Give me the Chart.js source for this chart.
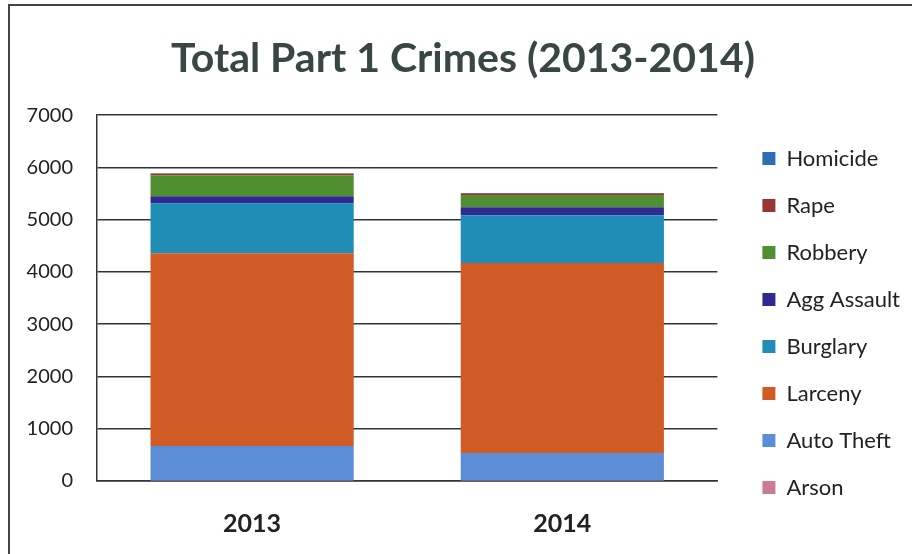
<!DOCTYPE html>
<html>
<head>
<meta charset="utf-8">
<script src="https://cdn.jsdelivr.net/npm/chart.js@4/dist/chart.umd.min.js"></script>
<style>
  body { margin: 0; background: #fff; }
  #frame { position: absolute; left: 8px; top: 4px; width: 904px; height: 550px;
           border-left: 2px solid #444; border-top: 2px solid #444; }
  #wrap { position: absolute; left: 0; top: 0; width: 912px; height: 554px; }
</style>
</head>
<body>
<div id="frame"></div>
<div id="wrap"><canvas id="crimeChart"></canvas></div>
<script>
// Years on the x axis
const years = ['2013', '2014'];

// Crime counts per year, bottom of stack first
const arson = [10, 10];
const autoTheft = [660, 525];
const larceny = [3690, 3635];
const burglary = [955, 915];
const aggAssault = [135, 155];
const robbery = [400, 235];
const rape = [35, 30];
const homicide = [5, 5];

// Y axis ticks
const yTicks = [0, 1000, 2000, 3000, 4000, 5000, 6000, 7000];

const font = 'Lato';

// nudge legend and title to where the original has them
const nudge = {
    id: 'nudge',
    afterLayout(chart) {
        const lg = chart.legend;
        lg.left += 20; lg.right += 20;
        lg.top += 46; lg.bottom += 46;
        const t = chart.titleBlock;
        t.left += 6; t.right += 6;
    }
};

const ctx = document.getElementById('crimeChart').getContext('2d');
new Chart(ctx, {
    type: 'bar',
    data: {
        labels: years,
        datasets: [
            { label: 'Arson', data: arson, backgroundColor: '#c97d93' },
            { label: 'Auto Theft', data: autoTheft, backgroundColor: '#5b8ed6' },
            { label: 'Larceny', data: larceny, backgroundColor: '#d15b24' },
            { label: 'Burglary', data: burglary, backgroundColor: '#1f8db5' },
            { label: 'Agg Assault', data: aggAssault, backgroundColor: '#30298f' },
            { label: 'Robbery', data: robbery, backgroundColor: '#4f8f2f' },
            { label: 'Rape', data: rape, backgroundColor: '#9b3434' },
            { label: 'Homicide', data: homicide, backgroundColor: '#2f6db3' }
        ]
    },
    plugins: [nudge],
    options: {
        responsive: true,
        maintainAspectRatio: false,
        animation: false,
        layout: { padding: { left: 24, right: 22, bottom: 0 } },
        datasets: { bar: { categoryPercentage: 1, barPercentage: 0.655 } },
        plugins: {
            title: {
                display: true,
                text: 'Total Part 1 Crimes (2013-2014)',
                color: '#384645',
                font: { family: font, size: 41, weight: 'bold' },
                padding: { top: 34, bottom: 32 }
            },
            legend: {
                position: 'right',
                reverse: true,
                labels: {
                    color: '#222',
                    font: { family: font, size: 22 },
                    boxWidth: 13,
                    boxHeight: 13,
                    padding: 25
                }
            },
            tooltip: { enabled: false }
        },
        scales: {
            x: {
                stacked: true,
                afterFit: (axis) => { axis.height = 73; },
                grid: { display: false, drawTicks: false },
                border: { color: '#333', width: 1.5 },
                ticks: { color: '#222', padding: 28, font: { family: font, size: 25, weight: 'bold' } }
            },
            y: {
                stacked: true,
                min: 0,
                max: 7000,
                afterFit: (axis) => { axis.width = 73; },
                afterBuildTicks: (axis) => { axis.ticks = yTicks.map(v => ({ value: v })); },
                grid: { color: '#333', lineWidth: 1.5, drawTicks: false },
                border: { color: '#333', width: 1.5 },
                ticks: {
                    color: '#222', padding: 24, font: { family: font, size: 20 },
                    callback: (v) => String(v)
                }
            }
        }
    }
});
</script>
</body>
</html>
